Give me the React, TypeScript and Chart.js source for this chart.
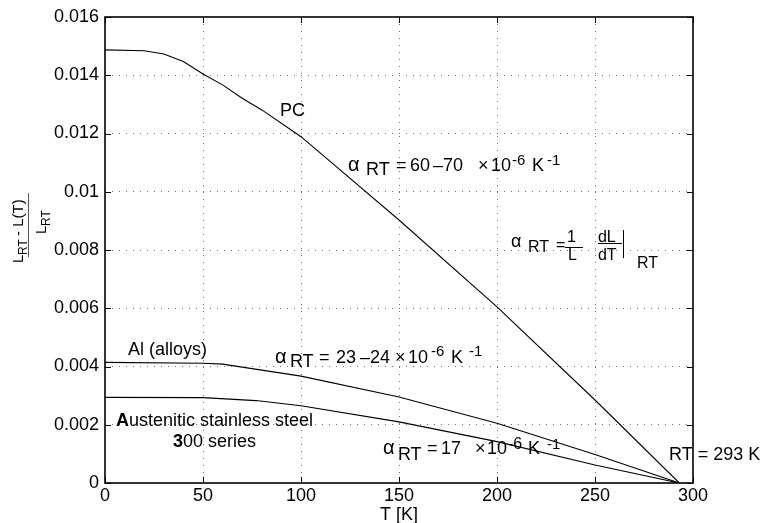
import React, { useEffect, useRef } from 'react';
import { Chart, registerables } from 'chart.js';

Chart.register(...registerables);

const FONT = "'Liberation Sans', Arial, Helvetica, sans-serif";

// Temperature (K) against relative contraction (L_RT - L(T)) / L_RT
const pcTemps = [0, 20, 30, 40, 50, 60, 70, 80, 100, 118, 150, 200, 250, 293];
const pcValues = [0.01487, 0.01484, 0.01473, 0.01447, 0.01404, 0.01367, 0.01321, 0.01281, 0.01189, 0.01086, 0.00903, 0.00605, 0.00285, 0];

const alTemps = [0, 50, 60, 100, 150, 200, 250, 293];
const alValues = [0.00414, 0.00411, 0.00408, 0.00367, 0.00295, 0.00205, 0.00098, 0];

const ssTemps = [0, 50, 77, 100, 150, 200, 250, 293];
const ssValues = [0.00294, 0.00293, 0.00283, 0.00265, 0.0021, 0.00142, 0.00062, 0];

const xTicks = [0, 50, 100, 150, 200, 250, 300];
const yTicks = [0, 0.002, 0.004, 0.006, 0.008, 0.01, 0.012, 0.014, 0.016];
const yTickLabels = ['0', '0.002', '0.004', '0.006', '0.008', '0.01', '0.012', '0.014', '0.016'];

type Seg = { t: string; dx: number; dy?: number; size?: number; bold?: boolean };
type Note = { x: number; y: number; size: number; segs: Seg[] };

// Text notes placed in data coordinates (T, ratio); dx/dy are pixel offsets of each run
const notes: Note[] = [
  { x: 89.3, y: 0.0126, size: 18, segs: [{ t: 'PC', dx: 0 }] },
  {
    x: 124.0, y: 0.01071, size: 18,
    segs: [
      { t: 'α', dx: 0, size: 20 }, { t: 'RT', dx: 18, dy: 4 }, { t: '=', dx: 48 }, { t: '60', dx: 62 },
      { t: '–70', dx: 85 }, { t: '×', dx: 130 }, { t: '10', dx: 143 }, { t: '-6', dx: 164, dy: -6, size: 15 },
      { t: 'K', dx: 184 }, { t: '-1', dx: 199, dy: -6, size: 15 },
    ],
  },
  { x: 11.7, y: 0.004395, size: 18, segs: [{ t: 'Al (alloys)', dx: 0 }] },
  {
    x: 86.7, y: 0.00412, size: 18,
    segs: [
      { t: 'α', dx: 0, size: 20 }, { t: 'RT', dx: 15, dy: 4 }, { t: '=', dx: 44 }, { t: '23', dx: 61 },
      { t: '–24', dx: 85 }, { t: '×', dx: 120 }, { t: '10', dx: 133 }, { t: '-6', dx: 156, dy: -7, size: 15 },
      { t: 'K', dx: 176 }, { t: '-1', dx: 194, dy: -7, size: 15 },
    ],
  },
  {
    x: 5.6, y: 0.001957, size: 18,
    segs: [{ t: 'A', dx: 0, bold: true }, { t: 'ustenitic stainless steel', dx: 13 }],
  },
  { x: 34.7, y: 0.001236, size: 18, segs: [{ t: '3', dx: 0, bold: true }, { t: '00 series', dx: 10 }] },
  {
    x: 141.8, y: 0.000996, size: 18,
    segs: [
      { t: 'α', dx: 0, size: 20 }, { t: 'RT', dx: 15, dy: 6 }, { t: '=', dx: 44 }, { t: '17', dx: 58 },
      { t: '×', dx: 92 }, { t: '10', dx: 104 }, { t: '-6', dx: 125, dy: -5, size: 16 },
      { t: 'K', dx: 145 }, { t: '-1', dx: 164, dy: -5, size: 15 },
    ],
  },
  { x: 287.8, y: 0.00079, size: 18, segs: [{ t: 'RT = 293 K', dx: 0 }] },
];

// Definition of the expansion coefficient, anchored at the alpha
const defX = 207.1;
const defY = 0.0081;

function drawRuns(ctx: CanvasRenderingContext2D, x: number, y: number, size: number, segs: Seg[]) {
  for (const s of segs) {
    ctx.font = `${s.bold ? 'bold ' : ''}${s.size ?? size}px ${FONT}`;
    ctx.fillText(s.t, x + s.dx, y + (s.dy ?? 0));
  }
}

const decor = {
  id: 'decor',
  afterDatasetsDraw(chart: any) {
    const { ctx, chartArea: a, scales } = chart;
    const xs = scales.x;
    const ys = scales.y;
    ctx.save();

    // frame
    ctx.strokeStyle = '#000';
    ctx.lineWidth = 1.6;
    ctx.strokeRect(a.left, a.top, a.right - a.left, a.bottom - a.top);

    // inward tick marks on all four sides
    const tl = 6;
    ctx.lineWidth = 1;
    ctx.beginPath();
    for (const v of xTicks) {
      const px = Math.round(xs.getPixelForValue(v)) + 0.5;
      ctx.moveTo(px, a.bottom);
      ctx.lineTo(px, a.bottom - tl);
      ctx.moveTo(px, a.top);
      ctx.lineTo(px, a.top + tl);
    }
    for (const v of yTicks) {
      const py = Math.round(ys.getPixelForValue(v)) + 0.5;
      ctx.moveTo(a.left, py);
      ctx.lineTo(a.left + tl, py);
      ctx.moveTo(a.right, py);
      ctx.lineTo(a.right - tl, py);
    }
    ctx.stroke();

    // notes
    ctx.fillStyle = '#000';
    ctx.textAlign = 'left';
    ctx.textBaseline = 'alphabetic';
    for (const n of notes) {
      drawRuns(ctx, xs.getPixelForValue(n.x), ys.getPixelForValue(n.y), n.size, n.segs);
    }

    // alpha_RT = (1/L) dL/dT |_RT
    const ox = xs.getPixelForValue(defX);
    const oy = ys.getPixelForValue(defY);
    drawRuns(ctx, ox, oy, 16, [
      { t: 'α', dx: 0, size: 18 }, { t: 'RT', dx: 17, dy: 5 }, { t: '=', dx: 45, dy: 3 },
      { t: '1', dx: 56, dy: -5 }, { t: 'L', dx: 57, dy: 13 },
      { t: 'dL', dx: 87, dy: -5 }, { t: 'dT', dx: 87, dy: 13 },
      { t: 'RT', dx: 126, dy: 21 },
    ]);
    ctx.lineWidth = 1;
    ctx.beginPath();
    ctx.moveTo(ox + 54, Math.round(oy) + 0.5);
    ctx.lineTo(ox + 72, Math.round(oy) + 0.5);
    ctx.moveTo(ox + 87, Math.round(oy - 4) + 0.5);
    ctx.lineTo(ox + 111, Math.round(oy - 4) + 0.5);
    ctx.moveTo(Math.round(ox + 112) + 0.5, oy - 17);
    ctx.lineTo(Math.round(ox + 112) + 0.5, oy + 11);
    ctx.stroke();

    // y axis title: (L_RT - L(T)) / L_RT, rotated
    ctx.translate(0, 225);
    ctx.rotate(-Math.PI / 2);
    drawRuns(ctx, -38, 23, 15, [
      { t: 'L', dx: 0 }, { t: 'RT', dx: 8, dy: 4, size: 12 }, { t: '- L(T)', dx: 27 },
    ]);
    drawRuns(ctx, -9, 46, 15, [{ t: 'L', dx: 0 }, { t: 'RT', dx: 8, dy: 4, size: 12 }]);
    ctx.strokeStyle = '#555';
    ctx.beginPath();
    ctx.moveTo(-32, 28.5);
    ctx.lineTo(32, 28.5);
    ctx.stroke();

    ctx.restore();
  },
};

const gridColor = (edgeA: number, edgeB: number) => (c: any) =>
  c.tick && (Math.abs(c.tick.value - edgeA) < 1e-9 || Math.abs(c.tick.value - edgeB) < 1e-9)
    ? 'rgba(0,0,0,0)'
    : 'rgba(0,0,0,0.55)';

export default function App() {
  const ref = useRef<HTMLCanvasElement | null>(null);

  useEffect(() => {
    if (!ref.current) return;
    const line = (xsArr: number[], ysArr: number[]) => ({
      data: xsArr.map((t, i) => ({ x: t, y: ysArr[i] })),
      borderColor: '#000',
      borderWidth: 1.1,
      pointRadius: 0,
      tension: 0,
      fill: false,
    });
    const chart = new Chart(ref.current, {
      type: 'line',
      data: {
        datasets: [line(pcTemps, pcValues), line(alTemps, alValues), line(ssTemps, ssValues)],
      },
      options: {
        animation: false,
        responsive: false,
        devicePixelRatio: 1,
        layout: { padding: { top: 17, right: 69, left: 0, bottom: 0 } },
        plugins: { legend: { display: false }, tooltip: { enabled: false } },
        scales: {
          x: {
            type: 'linear',
            min: 0,
            max: 300,
            afterBuildTicks: (s: any) => { s.ticks = xTicks.map((v) => ({ value: v })); },
            afterFit: (s: any) => { s.height = 40; },
            grid: { drawTicks: false, color: gridColor(0, 300), lineWidth: 1 },
            border: { display: false, dash: [1, 6] },
            ticks: {
              padding: 2,
              autoSkip: false,
              maxRotation: 0,
              color: '#000',
              font: { family: FONT, size: 18 },
            },
            title: {
              display: true,
              text: 'T [K]',
              color: '#000',
              font: { family: FONT, size: 18 },
              padding: { top: 0, bottom: -3 },
            },
          },
          y: {
            type: 'linear',
            min: 0,
            max: 0.016,
            afterBuildTicks: (s: any) => { s.ticks = yTicks.map((v) => ({ value: v })); },
            afterFit: (s: any) => { s.width = 105; },
            grid: { drawTicks: false, color: gridColor(0, 0.016), lineWidth: 1 },
            border: { display: false, dash: [1, 6] },
            ticks: {
              padding: 6,
              autoSkip: false,
              color: '#000',
              font: { family: FONT, size: 18 },
              callback: (v: any) => {
                const i = yTicks.findIndex((t) => Math.abs(t - Number(v)) < 1e-9);
                return i >= 0 ? yTickLabels[i] : '';
              },
            },
          },
        },
      },
      plugins: [decor],
    });
    return () => chart.destroy();
  }, []);

  return (
    <div style={{ position: 'absolute', left: 0, top: 0, width: 762, height: 523, background: '#fff' }}>
      <canvas ref={ref} width={762} height={523} style={{ display: 'block' }} />
    </div>
  );
}
